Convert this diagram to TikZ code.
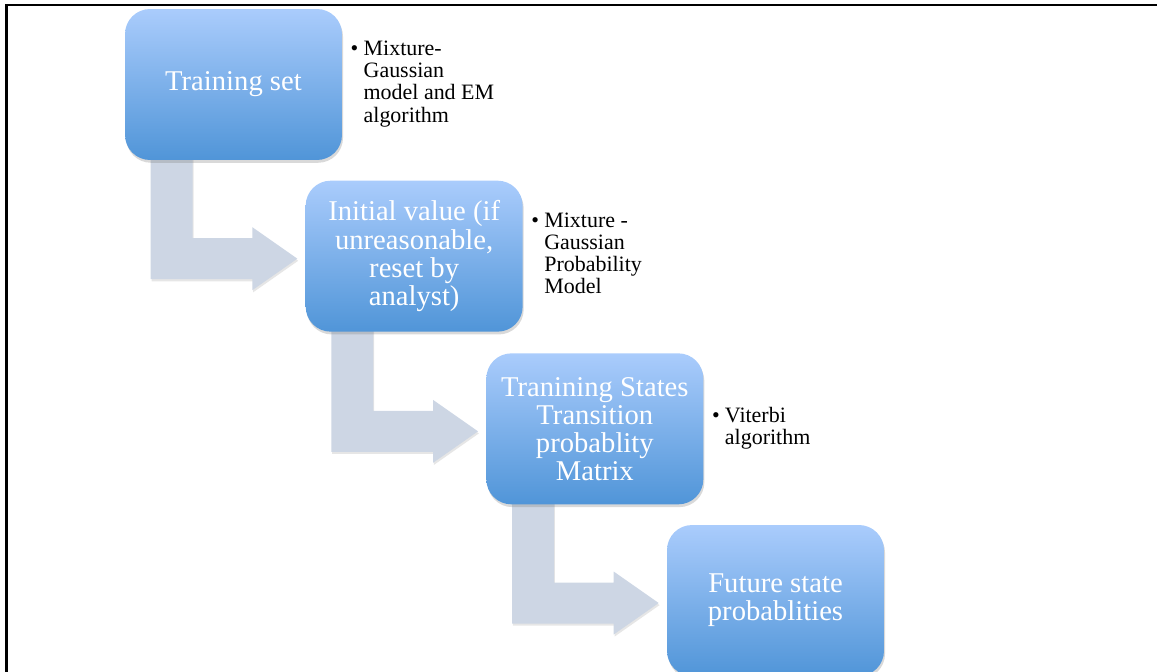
\documentclass[tikz,border=0pt]{standalone}
\usepackage{fontspec}
\setmainfont{Liberation Serif}
\usepackage{tikz}
\usetikzlibrary{arrows,shapes,positioning,shadows,calc,backgrounds}
\usepackage{xcolor}
\definecolor{dfbluetop}{RGB}{170,204,252}
\definecolor{dfbluebot}{RGB}{80,149,216}
\definecolor{dfgrey}{RGB}{205,214,228}
\tikzstyle{blocknode} = [rectangle, rounded corners=0.5cm, minimum width=4.34cm, minimum height=3.02cm, text centered, align=center, top color=dfbluetop, bottom color=dfbluebot, text=white, font=\fontsize{16.3}{16}\selectfont, drop shadow={shadow xshift=0.6pt, shadow yshift=-1.6pt, opacity=0.3}]
\tikzstyle{notenode} = [inner sep=0pt, font=\fontsize{12.5}{12.6}\selectfont]
\tikzstyle{steparrow} = [fill=dfgrey, drop shadow={shadow xshift=0.5pt, shadow yshift=-1.2pt, opacity=0.2}]
\newcommand{\bulletnote}[1]{\begin{tabular}[t]{@{}l@{\hspace{3pt}}l@{}}\textbullet & \begin{tabular}[t]{@{}l@{}}#1\end{tabular}\end{tabular}}

\begin{document}
\begin{tikzpicture}[x=0.02cm, y=-0.02cm]
\useasboundingbox (0,0) rectangle (1157,672);
\draw[line width=1.2pt] (1157,5) -- (6.5,5) -- (6.5,672);

% Main chain
\node[blocknode] (b1) at (233.5,84.5) {Training set};
\node[blocknode, below right=0.4cm and -0.74cm of b1] (b2) {Initial value (if\\unreasonable,\\reset by\\analyst)};
\node[blocknode, below right=0.42cm and -0.74cm of b2] (b3) {Tranining States\\Transition\\probablity\\Matrix};
\node[blocknode, below right=0.4cm and -0.74cm of b3] (b4) {Future state\\probablities};

% Notes
\node[notenode, right=0.16cm of b1] (n1) {\bulletnote{Mixture-\\Gaussian\\model and EM\\algorithm}};
\node[notenode, right=0.16cm of b2] (n2) {\bulletnote{Mixture -\\Gaussian\\Probability\\Model}};
\node[notenode, right=0.16cm of b3] (n3) {\bulletnote{Viterbi\\algorithm}};

% Bent arrows
\begin{scope}[on background layer]
\foreach \a/\b in {b1/b2, b2/b3, b3/b4} {
  \coordinate (top\a) at ($(\a.south west)+(26,-10)$);
  \coordinate (tip\a) at ($(\b.west)+(-8,2.5)$);
  \fill[steparrow] (top\a) -- ++(42,0) -- ($(top\a |- tip\a)+(42,-20.5)$) -- ($(tip\a)+(-45,-20.5)$) -- ($(tip\a)+(-45,-31.5)$) -- (tip\a) -- ($(tip\a)+(-45,31.5)$) -- ($(tip\a)+(-45,20.5)$) -- ($(top\a |- tip\a)+(0,20.5)$) -- cycle;
}
\end{scope}
\end{tikzpicture}
\end{document}
